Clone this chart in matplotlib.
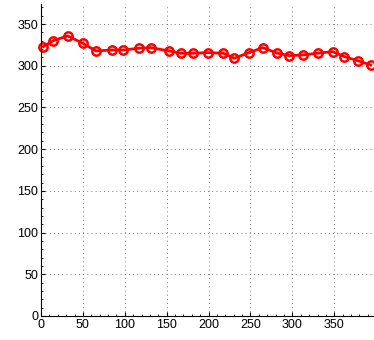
import matplotlib
matplotlib.use("Agg")
import matplotlib.pyplot as plt
from matplotlib.ticker import MultipleLocator

x = [2.7, 14.7, 31.9, 49.8, 65.6, 84.5, 98.2, 117.3, 131.3, 152.7, 166.7, 181.7, 198.9,
     217.5, 230.7, 248.2, 264.5, 282.2, 296.3, 313.0, 330.2, 348.1, 361.9, 378.6, 393.4]
y = [322.9, 330.1, 335.7, 327.0, 317.7, 318.9, 318.9, 321.0, 321.7, 317.7, 315.0, 315.0, 315.7,
     315.0, 309.0, 315.7, 321.7, 315.0, 312.1, 313.0, 315.0, 316.9, 311.0, 305.8, 301.0]

plt.rcParams["font.family"] = ["Liberation Sans", "DejaVu Sans"]
fig = plt.figure(figsize=(3.74, 3.40), dpi=100)
ax = fig.add_axes([41 / 374, 24 / 340, 1 - 41 / 374, 312 / 340])

ax.plot(x, y, color="red", linewidth=2, marker="o", markersize=6,
        markerfacecolor="none", markeredgecolor="red", markeredgewidth=1.8, clip_on=False)

ax.set_xlim(0, 397.4)
ax.set_ylim(0, 374)
ax.xaxis.set_major_locator(MultipleLocator(50))
ax.yaxis.set_major_locator(MultipleLocator(50))
ax.xaxis.set_minor_locator(MultipleLocator(10))
ax.yaxis.set_minor_locator(MultipleLocator(10))
ax.tick_params(which="both", direction="in", labelsize=9, pad=2)
ax.tick_params(which="major", length=3)
ax.tick_params(which="minor", length=1.5)
ax.spines["top"].set_visible(False)
ax.spines["right"].set_visible(False)
ax.grid(True, which="major", linestyle=(0, (1, 4)), color="#555555", linewidth=0.6)

fig.savefig("out.png", dpi=100)
